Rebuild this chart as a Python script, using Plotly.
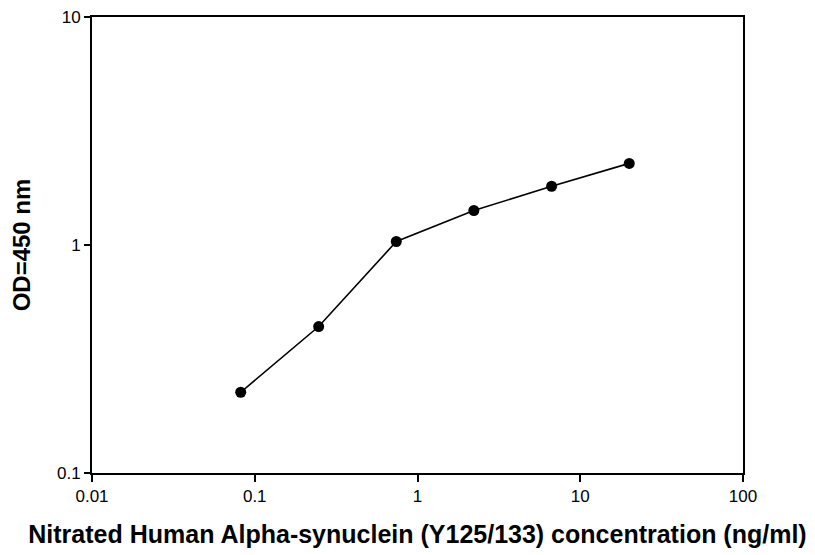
import plotly.graph_objects as go

concentration = [0.082, 0.247, 0.741, 2.22, 6.67, 20.0]
od450 = [0.226, 0.439, 1.036, 1.417, 1.81, 2.28]

x_tickvals = [0.01, 0.1, 1, 10, 100]
x_ticktext = ["0.01", "0.1", "1", "10", "100"]
y_tickvals = [0.1, 1, 10]
y_ticktext = ["0.1", "1", "10"]

fig = go.Figure()
fig.add_trace(go.Scatter(
    x=concentration, y=od450, mode="lines+markers",
    line=dict(color="black", width=1.6),
    marker=dict(color="black", size=11),
    showlegend=False,
))

font = "Liberation Sans, Arial, sans-serif"
fig.update_layout(
    width=815, height=555,
    margin=dict(l=84, r=80, t=9, b=90, autoexpand=False),
    paper_bgcolor="white", plot_bgcolor="white",
    font=dict(family=font, color="black", size=17),
    xaxis=dict(
        type="log", range=[-2, 2],
        tickvals=x_tickvals, ticktext=x_ticktext,
        showgrid=False, zeroline=False, automargin=False,
        ticklabeloverflow="allow",
        showline=True, linecolor="black", linewidth=2, mirror=True,
        ticks="outside", ticklen=7, tickwidth=1.5, tickcolor="black",
        title=dict(text="<b>Nitrated Human Alpha-synuclein (Y125/133) concentration (ng/ml)</b>",
                   font=dict(size=25), standoff=20),
    ),
    yaxis=dict(
        type="log", range=[-1, 1],
        tickvals=y_tickvals, ticktext=y_ticktext,
        showgrid=False, zeroline=False, automargin=False,
        ticklabeloverflow="allow",
        showline=True, linecolor="black", linewidth=2, mirror=True,
        ticks="outside", ticklen=6, tickwidth=1.5, tickcolor="black",
        title=dict(text="<b>OD=450 nm</b>", font=dict(size=24), standoff=20),
    ),
)
fig.write_html("out.html")
